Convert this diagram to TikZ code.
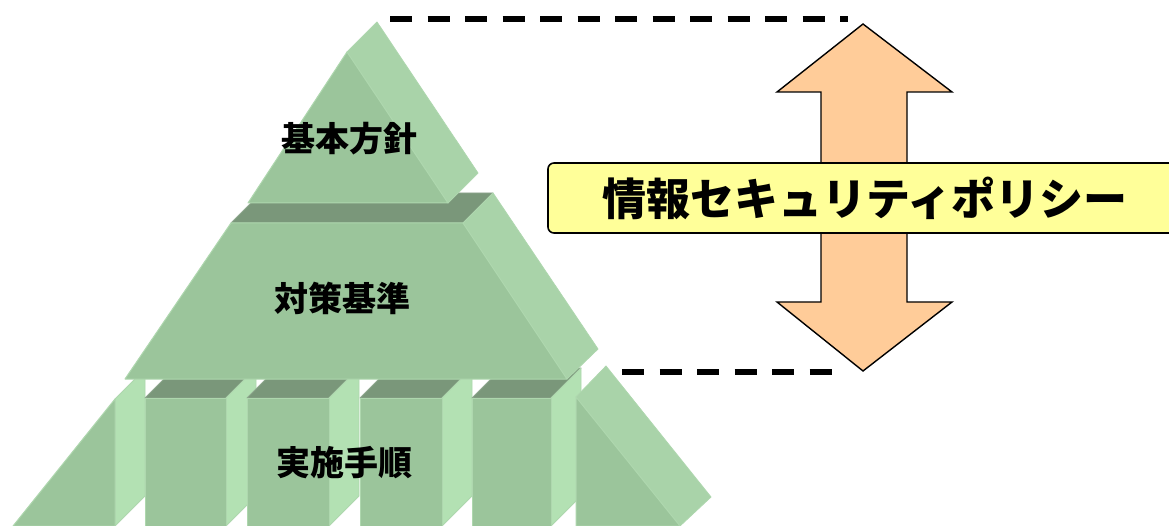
\documentclass[tikz,border=0pt]{standalone}
\usepackage{fontspec}
\newfontfamily\cjk{Noto Sans CJK JP}
\definecolor{frontcol}{HTML}{9BC59B}
\definecolor{sidecol}{HTML}{A9D3A9}
\definecolor{stripcol}{HTML}{B3E1B3}
\definecolor{topcol}{HTML}{7A977A}
\definecolor{edgecol}{HTML}{AED7AE}
\definecolor{arrowcol}{HTML}{FFCC99}
\definecolor{boxcol}{HTML}{FFFF99}
\tikzset{
  frontface/.style={fill=frontcol, draw=edgecol, line width=1pt, line join=round},
  sideface/.style={fill=sidecol, draw=edgecol, line width=0.8pt, line join=round},
  stripface/.style={fill=stripcol, draw=edgecol, line width=0.8pt, line join=round},
  topface/.style={fill=topcol, draw=topcol!85!white, line width=0.8pt, line join=round},
  layerlabel/.style={font=\cjk\bfseries\fontsize{34}{40}\selectfont, inner sep=0pt},
  policybox/.style={fill=boxcol, draw=black, line width=1.6pt, rounded corners=6pt,
    minimum width=634pt, minimum height=70pt, inner sep=0pt,
    font=\cjk\bfseries\fontsize{44}{50}\selectfont},
  bigarrow/.style={fill=arrowcol, draw=black, line width=1.4pt, line join=miter},
  guideline/.style={draw=black, line width=6pt, dash pattern=on 22pt off 15.5pt}
}
\begin{document}
\begin{tikzpicture}[x=1pt,y=-1pt]
\useasboundingbox (0,0) rectangle (1169,526);
\fill[white] (0,0) rectangle (1169,526);

% ---- bottom layer: 実施手順 ----
% left wedge
\path[stripface] (115,399) -- (145,369) -- (145,496) -- (115,526) -- cycle;
\path[frontface] (13,526) -- (115,399) -- (115,526) -- cycle;
% block 1
\path[topface] (145,398) -- (175,368) -- (256,368) -- (226,398) -- cycle;
\path[stripface] (226,398) -- (256,368) -- (256,496) -- (226,526) -- cycle;
\path[frontface] (145,398) rectangle (226,526);
% block 2
\path[topface] (247,398) -- (277,368) -- (359,368) -- (329,398) -- cycle;
\path[stripface] (329,398) -- (359,368) -- (359,496) -- (329,526) -- cycle;
\path[frontface] (247,398) rectangle (329,526);
% block 3
\path[topface] (360,398) -- (390,368) -- (472,368) -- (442,398) -- cycle;
\path[stripface] (442,398) -- (472,368) -- (472,496) -- (442,526) -- cycle;
\path[frontface] (360,398) rectangle (442,526);
% block 4
\path[topface] (472,398) -- (502,368) -- (581,368) -- (551,398) -- cycle;
\path[stripface] (551,398) -- (581,368) -- (581,496) -- (551,526) -- cycle;
\path[frontface] (472,398) rectangle (551,526);
% right wedge
\path[sideface] (576,397) -- (606,366) -- (711,497) -- (680,526) -- cycle;
\path[frontface] (576,397) -- (680,526) -- (576,526) -- cycle;

% ---- middle layer: 対策基準 ----
\path[topface] (231,223) -- (261,193) -- (493,193) -- (463,223) -- cycle;
\path[sideface] (463,223) -- (493,193) -- (598,349) -- (567,379) -- cycle;
\path[frontface] (231,223) -- (463,223) -- (567,379) -- (125,379) -- cycle;

% ---- top layer: 基本方針 ----
\path[sideface] (347,52) -- (377,22) -- (478,173) -- (448,203) -- cycle;
\path[frontface] (347,52) -- (448,203) -- (248,203) -- cycle;

\node[layerlabel] (kihon) at (349,139) {基本方針};
\node[layerlabel] (taisaku) at (342,298) {対策基準};
\node[layerlabel] (jisshi) at (344,463) {実施手順};

% ---- double arrow ----
\path[bigarrow] (863,24) -- (952,92) -- (907,92) -- (907,302) -- (952,302)
  -- (863,371) -- (777,302) -- (821,302) -- (821,92) -- (777,92) -- cycle;
\coordinate (arrowtop) at (863,24);
\coordinate (arrowbottom) at (863,371);

% ---- policy label ----
\node[policybox] (policy) at (865,198) {情報セキュリティポリシー};

% ---- dashed guide lines ----
\coordinate (topA) at (390,19);
\coordinate (topB) at (848,19);
\coordinate (botA) at (622,372);
\coordinate (botB) at (832,372);
\draw[guideline] (topA) -- (topB);
\draw[guideline] (botA) -- (botB);
\end{tikzpicture}
\end{document}
